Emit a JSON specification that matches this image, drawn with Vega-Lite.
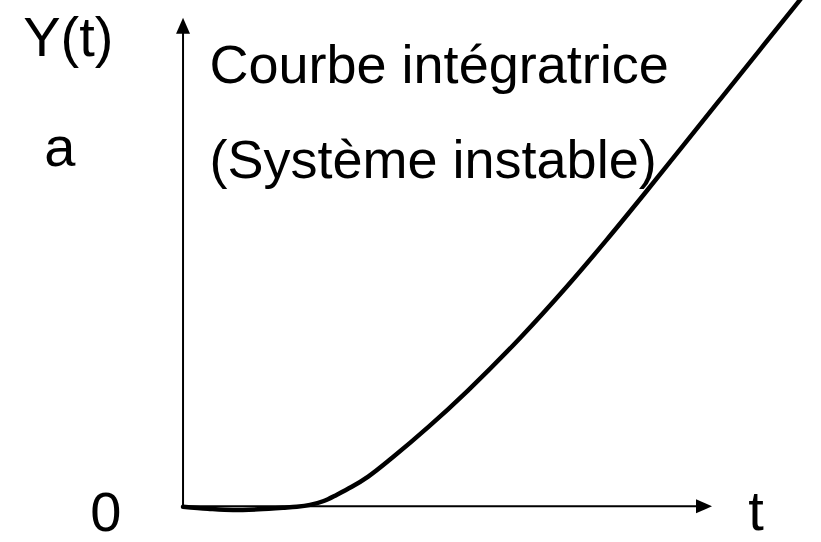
{
  "$schema": "https://vega.github.io/schema/vega-lite/v6.json",
  "width": 821,
  "height": 542,
  "autosize": {"type": "fit", "contains": "padding"},
  "padding": 0,
  "background": "white",
  "config": {"view": {"stroke": null}},
  "datasets": {
    "curve": [
      {"t": 0, "Y": -0.01},
      {"t": 0.47, "Y": -0.05},
      {"t": 0.945, "Y": -0.075},
      {"t": 1.42, "Y": -0.06},
      {"t": 1.89, "Y": -0.03},
      {"t": 2.15, "Y": -0.01},
      {"t": 2.4, "Y": 0.03},
      {"t": 2.66, "Y": 0.11},
      {"t": 2.91, "Y": 0.24},
      {"t": 3.19, "Y": 0.4},
      {"t": 3.5, "Y": 0.61},
      {"t": 3.97, "Y": 1.01},
      {"t": 4.65, "Y": 1.636},
      {"t": 5.38, "Y": 2.366},
      {"t": 6.39, "Y": 3.467},
      {"t": 7.24, "Y": 4.479},
      {"t": 8.0, "Y": 5.444},
      {"t": 8.73, "Y": 6.408},
      {"t": 9.45, "Y": 7.38},
      {"t": 10.17, "Y": 8.352},
      {"t": 10.89, "Y": 9.324},
      {"t": 11.61, "Y": 10.296},
      {"t": 11.85, "Y": 10.62}
    ],
    "yaxis": [{"t": 0, "Y": -0.01, "Y2": 9.7}],
    "xaxis": [{"t": 0, "t2": 9.7, "Y": 0}],
    "ytip": [{"t": 0, "Y": 10}],
    "xtip": [{"t": 10, "Y": 0}],
    "centerLabels": [
      {"label": "Y(t)", "t": -2.17, "Y": 9.21},
      {"label": "a", "t": -2.33, "Y": 6.97},
      {"label": "0", "t": -1.46, "Y": -0.5},
      {"label": "t", "t": 10.83, "Y": -0.48}
    ],
    "notes": [
      {"label": "Courbe intégratrice", "t": 0.5, "Y": 8.67},
      {"label": "(Système instable)", "t": 0.5, "Y": 6.73}
    ]
  },
  "layer": [
    {
      "data": {"name": "yaxis"},
      "mark": {"type": "rule", "color": "black", "strokeWidth": 2},
      "encoding": {
        "x": {"field": "t", "type": "quantitative", "scale": {"domain": [-3.46, 12.06], "nice": false, "zero": false}, "axis": null},
        "y": {"field": "Y", "type": "quantitative", "scale": {"domain": [-0.586, 10.364], "nice": false, "zero": false}, "axis": null},
        "y2": {"field": "Y2"}
      }
    },
    {
      "data": {"name": "xaxis"},
      "mark": {"type": "rule", "color": "black", "strokeWidth": 2},
      "encoding": {
        "x": {"field": "t", "type": "quantitative"},
        "x2": {"field": "t2"},
        "y": {"field": "Y", "type": "quantitative"}
      }
    },
    {
      "data": {"name": "ytip"},
      "mark": {"type": "point", "shape": "M0,0L-0.875,2L0.875,2Z", "size": 256, "filled": true, "color": "black", "opacity": 1},
      "encoding": {
        "x": {"field": "t", "type": "quantitative"},
        "y": {"field": "Y", "type": "quantitative"}
      }
    },
    {
      "data": {"name": "xtip"},
      "mark": {"type": "point", "shape": "M0,0L-2,-0.875L-2,0.875Z", "size": 256, "filled": true, "color": "black", "opacity": 1},
      "encoding": {
        "x": {"field": "t", "type": "quantitative"},
        "y": {"field": "Y", "type": "quantitative"}
      }
    },
    {
      "data": {"name": "curve"},
      "mark": {"type": "line", "color": "black", "strokeWidth": 4.5, "interpolate": "monotone", "clip": true, "strokeCap": "round"},
      "encoding": {
        "x": {"field": "t", "type": "quantitative"},
        "y": {"field": "Y", "type": "quantitative"},
        "order": {"field": "t", "type": "quantitative"}
      }
    },
    {
      "data": {"name": "centerLabels"},
      "mark": {"type": "text", "font": "Liberation Sans", "fontSize": 56, "align": "center", "baseline": "alphabetic", "color": "black"},
      "encoding": {
        "x": {"field": "t", "type": "quantitative"},
        "y": {"field": "Y", "type": "quantitative"},
        "text": {"field": "label"}
      }
    },
    {
      "data": {"name": "notes"},
      "mark": {"type": "text", "font": "Liberation Sans", "fontSize": 54, "align": "left", "baseline": "alphabetic", "color": "black"},
      "encoding": {
        "x": {"field": "t", "type": "quantitative"},
        "y": {"field": "Y", "type": "quantitative"},
        "text": {"field": "label"}
      }
    }
  ]
}
